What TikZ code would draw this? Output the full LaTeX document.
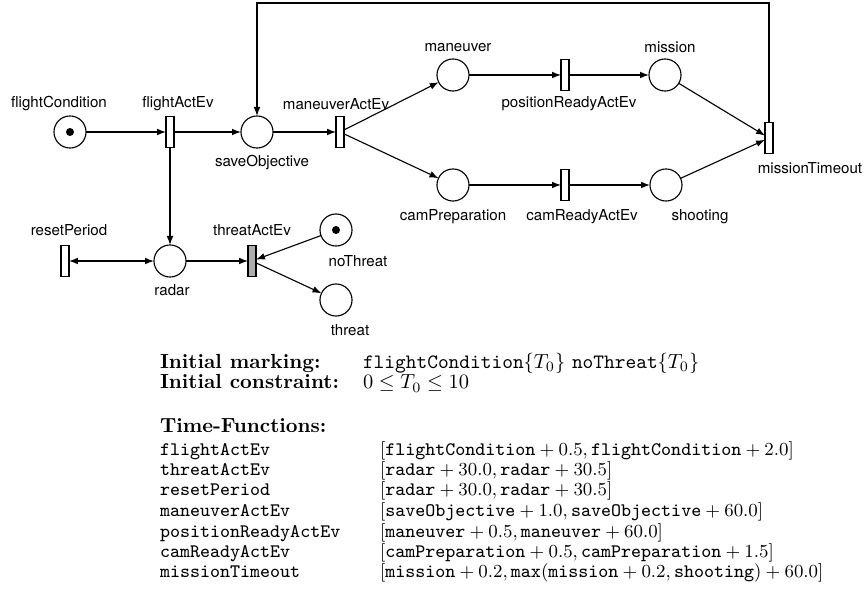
\documentclass[tikz,border=0pt]{standalone}
\usepackage{fontspec}
\usepackage{amsmath}
\usetikzlibrary{arrows.meta}
\newfontfamily\lblfont{TeX Gyre Heros}
\begin{document}
\begin{tikzpicture}[x=0.49pt,y=-0.49pt,
  every node/.style={inner sep=0pt,outer sep=0pt},
  place/.style={circle,draw,line width=0.55pt,minimum size=15.7pt,fill=white},
  trans/.style={rectangle,draw,line width=0.55pt,minimum width=3.9pt,minimum height=15.2pt,fill=white},
  transg/.style={trans,fill=black!32},
  lbl/.style={font=\lblfont\fontsize{7.4}{9}\selectfont},
  arc/.style={line width=0.55pt,-{Latex[length=4.4pt,width=3.3pt]}},
  biarc/.style={line width=0.55pt,{Latex[length=4.4pt,width=3.3pt]}-{Latex[length=4.4pt,width=3.3pt]}},
  token/.style={fill=black},
  head/.style={anchor=base west,text depth=0pt,font=\bfseries\fontsize{10}{12}\selectfont},
  txt/.style={anchor=base west,text depth=0pt,font=\fontsize{10}{12}\selectfont},
  row/.style={anchor=base west,font=\fontsize{9.35}{11}\selectfont}]
\useasboundingbox (0,0) rectangle (865,590);

% places
\node[place] (fc) at (70,132) {};
\node[place] (so) at (257,132) {};
\node[place] (man) at (453,75) {};
\node[place] (mis) at (665,75) {};
\node[place] (cp) at (453,185) {};
\node[place] (sh) at (666,185) {};
\node[place] (rad) at (170,261) {};
\node[place] (nt) at (336,230) {};
\node[place] (th) at (336,300) {};
\fill[token] (fc) circle[radius=4];
\fill[token] (nt) circle[radius=4];

% transitions
\node[trans] (fa) at (170,132) {};
\node[trans] (ma) at (340,132) {};
\node[trans] (pr) at (565,75) {};
\node[trans] (cr) at (565,185) {};
\node[trans] (mt) at (769,138) {};
\node[trans] (rp) at (65,261) {};
\node[transg] (ta) at (252,261) {};

% labels
\node[lbl] (lfc) at (59,104) {flightCondition};
\node[lbl] (lfa) at (178,104) {flightActEv};
\node[lbl] (lso) at (262,163) {saveObjective};
\node[lbl] (lma) at (336,104) {maneuverActEv};
\node[lbl] (lman) at (458,48) {maneuver};
\node[lbl] (lpr) at (569,104) {positionReadyActEv};
\node[lbl] (lmis) at (670,47) {mission};
\node[lbl] (lcp) at (453,217) {camPreparation};
\node[lbl] (lcr) at (582,217) {camReadyActEv};
\node[lbl] (lsh) at (700,217) {shooting};
\node[lbl] (lmt) at (810,168) {missionTimeout};
\node[lbl] (lrp) at (69,230) {resetPeriod};
\node[lbl] (lrad) at (172,290) {radar};
\node[lbl] (lta) at (252,230) {threatActEv};
\node[lbl] (lnt) at (358,261) {noThreat};
\node[lbl] (lth) at (350,330) {threat};

% arcs
\draw[arc] (fc) -- (fa);
\draw[arc] (fa) -- (so);
\draw[arc] (so) -- (ma);
\draw[arc] (ma) -- (man);
\draw[arc] (ma) -- (cp);
\draw[arc] (man) -- (pr);
\draw[arc] (pr) -- (mis);
\draw[arc] (cp) -- (cr);
\draw[arc] (cr) -- (sh);
\draw[arc] (mis) -- (mt);
\draw[arc] (sh) -- (mt);
\coordinate (loopL) at (257,3);
\draw[arc] (mt.north) |- (loopL) -- (so.north);
\draw[arc] (fa.south) -- (rad.north);
\draw[biarc] (rp) -- (rad);
\draw[arc] (rad) -- (ta);
\draw[arc] (nt) -- (ta);
\draw[arc] (ta) -- (th);

% marking, constraint and time functions
\node[head] (hm) at (160,368) {Initial marking:};
\node[txt] (vm) at (363,368) {\texttt{flightCondition}$\{T_0\}$ \texttt{noThreat}$\{T_0\}$};
\node[head] (hc) at (160,389) {Initial constraint:};
\node[txt] (vc) at (363,389) {$0\leq T_0\leq 10$};
\node[head] (ht) at (160,432) {Time-Functions:};

\node[row] (n1) at (160,455) {\texttt{flightActEv}};
\node[row] (v1) at (380,455) {$[\texttt{flightCondition}+0.5,\texttt{flightCondition}+2.0]$};
\node[row] (n2) at (160,475) {\texttt{threatActEv}};
\node[row] (v2) at (380,475) {$[\texttt{radar}+30.0,\texttt{radar}+30.5]$};
\node[row] (n3) at (160,495) {\texttt{resetPeriod}};
\node[row] (v3) at (380,495) {$[\texttt{radar}+30.0,\texttt{radar}+30.5]$};
\node[row] (n4) at (160,516) {\texttt{maneuverActEv}};
\node[row] (v4) at (380,516) {$[\texttt{saveObjective}+1.0,\texttt{saveObjective}+60.0]$};
\node[row] (n5) at (160,537) {\texttt{positionReadyActEv}};
\node[row] (v5) at (380,537) {$[\texttt{maneuver}+0.5,\texttt{maneuver}+60.0]$};
\node[row] (n6) at (160,557) {\texttt{camReadyActEv}};
\node[row] (v6) at (380,557) {$[\texttt{camPreparation}+0.5,\texttt{camPreparation}+1.5]$};
\node[row] (n7) at (160,577) {\texttt{missionTimeout}};
\node[row] (v7) at (380,577) {$[\texttt{mission}+0.2,\texttt{max}(\texttt{mission}+0.2,\texttt{shooting})+60.0]$};
\end{tikzpicture}
\end{document}
